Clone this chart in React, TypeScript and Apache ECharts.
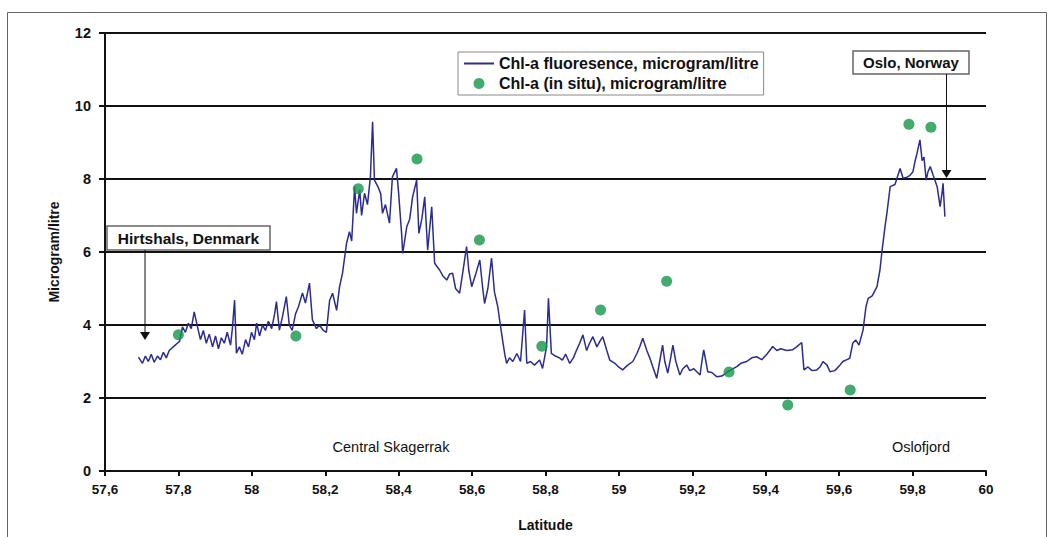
import React, { useEffect, useRef } from "react";
import * as echarts from "echarts";

// Chl-a fluorescence (line)
const fluorLat = [
  57.691, 57.702, 57.710, 57.718, 57.726, 57.734, 57.743, 57.751, 57.759, 57.767,
  57.775, 57.786, 57.797, 57.803, 57.811, 57.819, 57.827, 57.835, 57.843, 57.852,
  57.860, 57.868, 57.876, 57.884, 57.893, 57.901, 57.909, 57.917, 57.925, 57.933,
  57.942, 57.947, 57.953, 57.958, 57.966, 57.974, 57.983, 57.991, 57.999, 58.007,
  58.013, 58.021, 58.029, 58.037, 58.045, 58.054, 58.062, 58.067, 58.075, 58.083,
  58.094, 58.102, 58.110, 58.119, 58.127, 58.138, 58.146, 58.157, 58.165, 58.176,
  58.184, 58.195, 58.203, 58.212, 58.220, 58.231, 58.239, 58.247, 58.258, 58.266,
  58.272, 58.280, 58.285, 58.294, 58.299, 58.307, 58.315, 58.323, 58.329, 58.334,
  58.343, 58.351, 58.356, 58.364, 58.375, 58.383, 58.394, 58.400, 58.408, 58.411,
  58.422, 58.430, 58.438, 58.449, 58.455, 58.463, 58.471, 58.479, 58.490, 58.498,
  58.512, 58.520, 58.531, 58.539, 58.547, 58.555, 58.566, 58.574, 58.585, 58.591,
  58.599, 58.610, 58.621, 58.629, 58.634, 58.643, 58.653, 58.661, 58.670, 58.675,
  58.683, 58.689, 58.694, 58.702, 58.711, 58.722, 58.732, 58.743, 58.749, 58.759,
  58.770, 58.784, 58.792, 58.803, 58.808, 58.816, 58.827, 58.838, 58.846, 58.855,
  58.866, 58.876, 58.885, 58.893, 58.902, 58.912, 58.920, 58.929, 58.940, 58.948,
  58.956, 58.967, 58.975, 58.989, 58.999, 59.010, 59.024, 59.038, 59.049, 59.057,
  59.065, 59.076, 59.084, 59.092, 59.103, 59.111, 59.119, 59.125, 59.133, 59.141,
  59.147, 59.155, 59.166, 59.174, 59.185, 59.193, 59.204, 59.221, 59.226, 59.231,
  59.237, 59.242, 59.253, 59.267, 59.280, 59.297, 59.310, 59.321, 59.332, 59.348,
  59.362, 59.375, 59.389, 59.403, 59.419, 59.430, 59.441, 59.457, 59.473, 59.484,
  59.498, 59.504, 59.515, 59.526, 59.539, 59.548, 59.556, 59.567, 59.575, 59.588,
  59.602, 59.610, 59.621, 59.629, 59.637, 59.645, 59.654, 59.665, 59.673, 59.679,
  59.690, 59.703, 59.711, 59.717, 59.725, 59.730, 59.739, 59.752, 59.766, 59.774,
  59.785, 59.793, 59.801, 59.807, 59.812, 59.820, 59.826, 59.831, 59.837, 59.842,
  59.848, 59.856, 59.867, 59.875, 59.880, 59.883, 59.888,
];
const fluorVal = [
  3.12, 2.95, 3.15, 3.0, 3.2, 2.98, 3.15, 3.05, 3.25, 3.1,
  3.3, 3.4, 3.5, 3.55, 3.95, 3.8, 4.05, 3.9, 4.36, 3.95,
  3.6, 3.85, 3.5, 3.75, 3.4, 3.7, 3.35, 3.65, 3.5, 3.8,
  3.45, 3.9, 4.68, 3.23, 3.4, 3.2, 3.6, 3.4, 3.8, 3.6,
  4.05, 3.7, 4.0, 3.85, 4.1, 3.9, 4.3, 4.64, 3.86, 4.2,
  4.78, 4.0, 3.85, 4.3, 4.5, 4.88, 4.6, 5.15, 4.14, 3.9,
  4.0, 3.85, 3.8, 4.68, 4.87, 4.4, 5.05, 5.42, 6.24, 6.56,
  6.3, 7.79, 7.06, 7.7, 7.0, 7.61, 7.3, 8.06, 9.57, 7.97,
  7.8, 7.6, 7.06, 7.3, 6.79, 8.06, 8.29, 7.6, 6.51, 5.96,
  6.69, 6.9, 7.51, 7.97, 6.51, 6.9, 7.51, 6.05, 7.24, 5.69,
  5.5, 5.35, 5.23, 5.4, 5.42, 5.0, 4.87, 5.4, 6.15, 5.5,
  5.05, 5.4, 5.78, 5.0, 4.59, 5.0, 5.83, 4.9, 4.5, 4.14,
  3.59, 3.2, 2.95, 3.1, 3.0, 3.22, 3.0, 4.41, 2.95, 3.0,
  2.9, 3.04, 2.81, 3.41, 4.73, 3.22, 3.15, 3.1, 3.04, 3.2,
  2.95, 3.1, 3.32, 3.5, 3.73, 3.3, 3.5, 3.68, 3.4, 3.55,
  3.68, 3.3, 3.04, 2.95, 2.85, 2.77, 2.9, 3.0, 3.22, 3.41,
  3.64, 3.3, 3.1, 2.86, 2.54, 3.0, 3.45, 3.0, 2.68, 3.1,
  3.45, 3.0, 2.63, 2.8, 2.9, 2.75, 2.8, 2.63, 3.0, 3.32,
  3.0, 2.72, 2.7, 2.58, 2.6, 2.72, 2.8, 2.86, 2.95, 3.0,
  3.1, 3.13, 3.05, 3.2, 3.41, 3.3, 3.35, 3.3, 3.32, 3.4,
  3.52, 2.77, 2.85, 2.75, 2.77, 2.85, 3.0, 2.9, 2.72, 2.75,
  2.9, 3.0, 3.05, 3.09, 3.5, 3.59, 3.45, 3.86, 4.5, 4.73,
  4.8, 5.05, 5.5, 6.05, 6.7, 7.06, 7.79, 7.85, 8.29, 8.02,
  8.05, 8.1, 8.2, 8.5, 8.7, 9.07, 8.5, 8.6, 7.97, 8.2,
  8.34, 8.1, 7.79, 7.24, 7.6, 7.88, 6.97,
];

// Chl-a in situ (dots)
const insituLat = [57.8, 58.12, 58.29, 58.45, 58.62, 58.79, 58.95, 59.13, 59.3, 59.46, 59.63, 59.79, 59.85];
const insituVal = [3.73, 3.7, 7.73, 8.55, 6.33, 3.42, 4.41, 5.2, 2.71, 1.81, 2.22, 9.5, 9.42];

const lineName = "Chl-a fluoresence, microgram/litre";
const dotName = "Chl-a (in situ), microgram/litre";
const xAxisName = "Latitude";
const yAxisName = "Microgram/litre";

const FONT = "'Liberation Sans', Arial, sans-serif";

export default function App() {
  const ref = useRef<HTMLDivElement>(null);
  useEffect(() => {
    if (!ref.current) return;
    const chart = echarts.init(ref.current, undefined, { renderer: "svg" });
    const lineData = fluorLat.map((x, i) => [x, fluorVal[i]]);
    const dotData = insituLat.map((x, i) => [x, insituVal[i]]);
    chart.setOption({
      animation: false,
      backgroundColor: "#fff",
      grid: { left: 105, right: 68, top: 33, bottom: 66 },
      legend: {
        orient: "vertical",
        left: 458,
        top: 52,
        padding: [3, 5, 3, 5],
        itemGap: 3,
        itemWidth: 30,
        itemHeight: 11,
        borderColor: "#888",
        borderWidth: 1,
        backgroundColor: "#fff",
        textStyle: { fontFamily: FONT, fontWeight: "bold", fontSize: 16, color: "#111", lineHeight: 17 },
        data: [
          { name: lineName, itemStyle: { opacity: 0 } },
          dotName,
        ],
      },
      xAxis: {
        type: "value",
        min: 57.6,
        max: 60,
        interval: 0.2,
        name: xAxisName,
        nameLocation: "middle",
        nameGap: 47,
        nameTextStyle: { fontFamily: FONT, fontWeight: "bold", fontSize: 14, color: "#111" },
        axisLine: { show: true, onZero: false, lineStyle: { color: "#111", width: 2 } },
        axisTick: { show: true, length: 5, lineStyle: { color: "#111", width: 2 } },
        axisLabel: {
          margin: 11,
          fontFamily: FONT,
          fontWeight: "bold",
          fontSize: 13.5,
          color: "#111",
          formatter: (v: number) => String(Math.round(v * 10) / 10).replace(".", ","),
        },
        splitLine: { show: false },
      },
      yAxis: {
        type: "value",
        min: 0,
        max: 12,
        interval: 2,
        name: yAxisName,
        nameLocation: "middle",
        nameGap: 44,
        nameTextStyle: { fontFamily: FONT, fontWeight: "bold", fontSize: 14, color: "#111" },
        axisLine: { show: true, lineStyle: { color: "#111", width: 2 } },
        axisTick: { show: true, length: 6, lineStyle: { color: "#111", width: 2 } },
        axisLabel: { margin: 14, fontFamily: FONT, fontWeight: "bold", fontSize: 14.5, color: "#111" },
        splitLine: { show: true, lineStyle: { color: "#111", width: 2 } },
      },
      series: [
        {
          name: lineName,
          type: "line",
          data: lineData,
          symbol: "none",
          lineStyle: { color: "#2b2b95", width: 1.5 },
          itemStyle: { color: "#2b2b95" },
          z: 3,
        },
        {
          name: dotName,
          type: "scatter",
          data: dotData,
          symbolSize: 11,
          itemStyle: { color: "#14964a" },
          z: 4,
        },
      ],
      graphic: [
        {
          type: "rect",
          shape: { x: 7.5, y: 12.5, width: 1039, height: 540 },
          style: { fill: "none", stroke: "#666", lineWidth: 1 },
          silent: true,
        },
        {
          type: "rect",
          shape: { x: 107, y: 226, width: 163, height: 24 },
          style: { fill: "#fff", stroke: "#666", lineWidth: 1.5 },
          z: 10,
        },
        {
          type: "text",
          x: 188.5,
          y: 238.5,
          style: { text: "Hirtshals, Denmark", fontFamily: FONT, fontWeight: "bold", fontSize: 15.5, fill: "#111", align: "center", verticalAlign: "middle" },
          z: 11,
        },
        {
          type: "line",
          shape: { x1: 145, y1: 250, x2: 145, y2: 333 },
          style: { stroke: "#111", lineWidth: 1 },
          z: 10,
        },
        {
          type: "polygon",
          shape: { points: [[140, 332], [150, 332], [145, 340]] },
          style: { fill: "#111" },
          z: 10,
        },
        {
          type: "rect",
          shape: { x: 853, y: 51, width: 116, height: 23 },
          style: { fill: "#fff", stroke: "#666", lineWidth: 1.5 },
          z: 10,
        },
        {
          type: "text",
          x: 911,
          y: 62.5,
          style: { text: "Oslo, Norway", fontFamily: FONT, fontWeight: "bold", fontSize: 15, fill: "#111", align: "center", verticalAlign: "middle" },
          z: 11,
        },
        {
          type: "line",
          shape: { x1: 946.5, y1: 74, x2: 946.5, y2: 171 },
          style: { stroke: "#111", lineWidth: 1 },
          z: 10,
        },
        {
          type: "polygon",
          shape: { points: [[941.5, 170], [951.5, 170], [946.5, 178]] },
          style: { fill: "#111" },
          z: 10,
        },
        {
          type: "text",
          x: 391,
          y: 447,
          style: { text: "Central Skagerrak", fontFamily: FONT, fontSize: 14.5, fill: "#111", align: "center", verticalAlign: "middle" },
          z: 10,
        },
        {
          type: "text",
          x: 921,
          y: 447,
          style: { text: "Oslofjord", fontFamily: FONT, fontSize: 14.5, fill: "#111", align: "center", verticalAlign: "middle" },
          z: 10,
        },
      ],
    });
    return () => chart.dispose();
  }, []);
  return <div ref={ref} style={{ position: "fixed", left: 0, top: 0, width: 1054, height: 537 }} />;
}
